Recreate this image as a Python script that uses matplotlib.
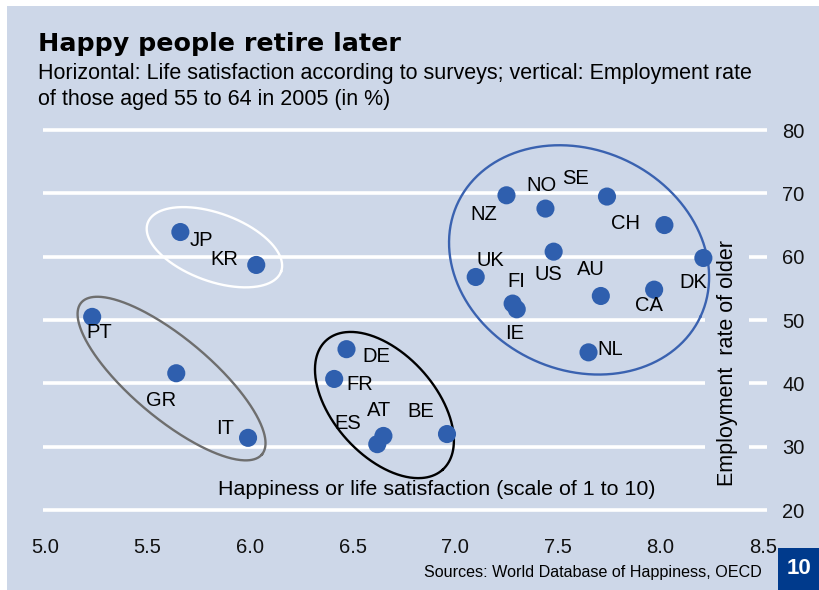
import numpy as np
import matplotlib
matplotlib.use("Agg")
import matplotlib.pyplot as plt
from matplotlib.patches import Rectangle

# data
countries = ['JP', 'KR', 'PT', 'GR', 'IT', 'DE', 'FR', 'ES', 'AT', 'BE',
             'NZ', 'NO', 'SE', 'CH', 'US', 'UK', 'DK', 'AU', 'CA', 'FI', 'IE', 'NL']
happiness = [5.66, 6.03, 5.23, 5.64, 5.99, 6.47, 6.41, 6.62, 6.65, 6.96,
             7.25, 7.44, 7.74, 8.02, 7.48, 7.10, 8.21, 7.71, 7.97, 7.28, 7.30, 7.65]
employment = [63.9, 58.7, 50.5, 41.6, 31.4, 45.4, 40.7, 30.4, 31.7, 32.0,
              69.7, 67.6, 69.5, 65.0, 60.8, 56.8, 59.8, 53.8, 54.8, 52.6, 51.7, 44.9]
x_ticks = [5.0, 5.5, 6.0, 6.5, 7.0, 7.5, 8.0, 8.5]
y_ticks = [20, 30, 40, 50, 60, 70, 80]

# label offsets in pixels (right, down)
label_offsets = {
    'JP': (21, 8), 'KR': (-32, -5), 'PT': (7, 16), 'GR': (-15, 27), 'IT': (-23, -9),
    'DE': (30, 7), 'FR': (26, 6), 'ES': (-30, -21), 'AT': (-4, -25), 'BE': (-26, -23),
    'NZ': (-23, 19), 'NO': (-4, -23), 'SE': (-31, -18), 'CH': (-39, -2), 'US': (-5, 23),
    'UK': (15, -16), 'DK': (-10, 25), 'AU': (-10, -26), 'CA': (-5, 16), 'FI': (4, -22),
    'IE': (-2, 24), 'NL': (22, -3),
}

# group ellipses: centre (data), semi axes (px), angle (deg), colour
groups = [
    (7.604, 59.5, 134, 110, -25, '#3a62b0'),
    (5.826, 61.5, 71, 34, -20, 'white'),
    (5.617, 40.76, 118, 40, -40, '#6e6e6e'),
    (6.655, 36.58, 87, 51, -48, 'black'),
]

BG = '#cdd7e8'
DOT = '#2f5fae'
REG = ['Liberation Sans', 'DejaVu Sans']

fig = plt.figure(figsize=(8.2, 5.9), dpi=100)
fig.patch.set_facecolor('white')
fig.patches.append(Rectangle((7 / 820, 0), 1, (590 - 6) / 590, transform=fig.transFigure,
                             facecolor=BG, edgecolor='none', zorder=-10))
fig.patches.append(Rectangle((778 / 820, 0), 1, (590 - 548) / 590, transform=fig.transFigure,
                             facecolor='#003a8c', edgecolor='none', zorder=-5))

ax = fig.add_axes([42.95 / 820, (590 - 522.7) / 590, 724 / 820, 405.3 / 590])
ax.set_facecolor('none')
ax.set_xlim(4.99, 8.52)
ax.set_ylim(18, 82)
for s in ax.spines.values():
    s.set_visible(False)
ax.set_xticks(x_ticks)
ax.set_xticklabels([f'{v:.1f}' for v in x_ticks], family=REG, fontsize=14.5)
ax.set_yticks(y_ticks)
ax.set_yticklabels([str(v) for v in y_ticks], family=REG, fontsize=14.5)
ax.yaxis.tick_right()
ax.tick_params(length=0, colors='#111111')
ax.tick_params(axis='x', pad=11)
ax.tick_params(axis='y', pad=11)
ax.yaxis.grid(True, color='white', lw=2.6, zorder=0)
ax.set_axisbelow(True)

# ellipses drawn in pixel space so the tilt is not sheared
t = np.linspace(0, 2 * np.pi, 400)
inv = ax.transData.inverted()
for cx, cy, a, b, ang, col in groups:
    th = np.radians(ang)
    dx = a * np.cos(t) * np.cos(th) - b * np.sin(t) * np.sin(th)
    dy = a * np.cos(t) * np.sin(th) + b * np.sin(t) * np.cos(th)
    px, py = ax.transData.transform((cx, cy))
    pts = inv.transform(np.column_stack([px + dx, py + dy]))
    ax.plot(pts[:, 0], pts[:, 1], color=col, lw=1.7, zorder=3)

ax.scatter(happiness, employment, s=170, color=DOT, edgecolors='none', zorder=4)
for c, x, y in zip(countries, happiness, employment):
    ox, oy = label_offsets[c]
    ax.annotate(c, (x, y), xytext=(ox, -oy), textcoords='offset pixels',
                ha='center', va='center', fontsize=14.5, family=REG, zorder=5)

ax.text(0.544, 0.083, 'Happiness or life satisfaction (scale of 1 to 10)', transform=ax.transAxes,
        ha='center', va='center', fontsize=15.4, family=REG)
ax.text(0.945, 0.393, 'Employment  rate of older', transform=ax.transAxes, rotation=90,
        ha='center', va='center', fontsize=15.5, family=REG, zorder=2,
        bbox=dict(facecolor=BG, edgecolor='none', pad=8))

fig.text(38 / 820, 1 - 44 / 590, 'Happy people retire later', ha='left', va='center',
         fontsize=18.3, fontweight='bold', family=['DejaVu Sans'])
fig.text(38 / 820, 1 - 73 / 590, 'Horizontal: Life satisfaction according to surveys; vertical: Employment rate',
         ha='left', va='center', fontsize=15.5, family=REG)
fig.text(38 / 820, 1 - 100 / 590, 'of those aged 55 to 64 in 2005 (in %)',
         ha='left', va='center', fontsize=15.5, family=REG)
fig.text(762 / 820, 1 - 573 / 590, 'Sources: World Database of Happiness, OECD',
         ha='right', va='center', fontsize=11.6, family=REG)
fig.text(799 / 820, 1 - 568 / 590, '10', ha='center', va='center', color='white',
         fontsize=16, fontweight='bold', family=REG)

fig.savefig('out.png', dpi=100)
